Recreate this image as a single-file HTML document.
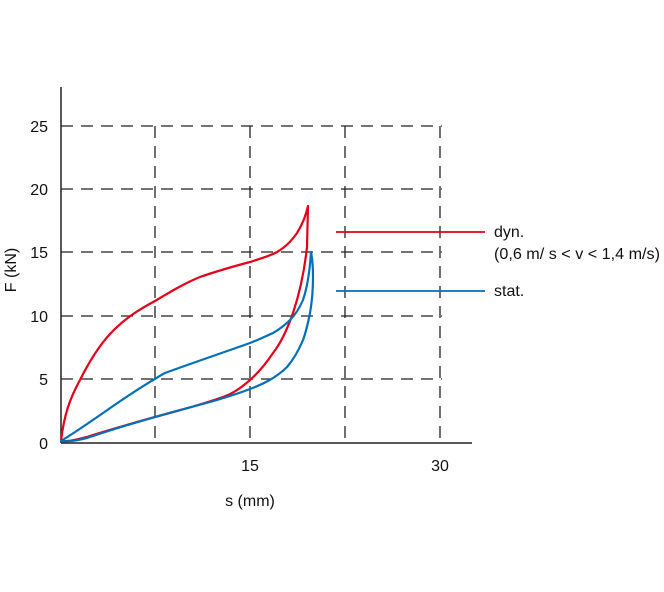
<!DOCTYPE html>
<html><head><style>body{margin:0;background:#fff}svg{display:block}</style></head><body>
<svg width="664" height="592" xmlns="http://www.w3.org/2000/svg" font-family="Liberation Sans, Arial, sans-serif" font-size="16" fill="#111">
<g stroke="#222" stroke-width="1.3" stroke-dasharray="12,8" fill="none">
<line x1="61" y1="126" x2="442" y2="126"/>
<line x1="61" y1="189" x2="442" y2="189"/>
<line x1="61" y1="252" x2="442" y2="252"/>
<line x1="61" y1="316" x2="442" y2="316"/>
<line x1="61" y1="379" x2="442" y2="379"/>
<line x1="155" y1="126" x2="155" y2="443"/>
<line x1="250" y1="126" x2="250" y2="443"/>
<line x1="345" y1="126" x2="345" y2="443"/>
<line x1="440" y1="126" x2="440" y2="443"/>
</g>
<g stroke="#222" stroke-width="1.5">
<line x1="61" y1="87" x2="61" y2="443"/>
<line x1="61" y1="443" x2="472" y2="443"/>
</g>
<g text-anchor="end">
<text x="48" y="132">25</text><text x="48" y="195">20</text><text x="48" y="258">15</text>
<text x="48" y="322">10</text><text x="48" y="385">5</text><text x="48" y="449">0</text>
</g>
<text x="250" y="471" text-anchor="middle">15</text>
<text x="440" y="471" text-anchor="middle">30</text>
<text x="250" y="506" text-anchor="middle">s (mm)</text>
<text transform="translate(16,270) rotate(-90)" text-anchor="middle">F (kN)</text>
<g fill="none" stroke-width="2.2" stroke-linejoin="round">
<path stroke="#e2001a" d="M61,441 C64,415 70,398 80,380 C89,362 98,347 110,334 C125,318 140,309 155,301 C170,292 185,283 200,277 C220,270 235,266 250,262 C262,258 270,256 277,252 C287,246 292,240 297,233 C302,225 306,215 308,206 L307,247 C304,275 299,295 293,313 C287,330 281,343 273,353 C265,365 258,373 250,380 C240,389 232,394 223,397 C200,405 178,411 155,417 C130,424 105,431 87,437 C75,440 67,442 61,441 Z"/>
<path stroke="#0070b8" d="M61,441 C95,420 125,396 155,379 C158,377 161,375 165,373 C195,362 222,353 250,343 C258,340 266,336 273,333 C280,329 285,325 290,320 C296,314 300,307 303,300 C308,285 310,268 311,252 C313,262 313,270 313,277 C313,290 312,302 310,313 C308,323 306,332 303,340 C298,352 293,360 287,367 C276,378 263,384 250,389 C237,394 227,397 217,400 C196,406 175,411 155,417 C130,424 105,432 87,438 C75,441 67,442 61,441 Z"/>
<line stroke="#e2001a" stroke-width="1.8" x1="336" y1="232" x2="485" y2="232"/>
<line stroke="#0070b8" stroke-width="1.8" x1="336" y1="291" x2="485" y2="291"/>
</g>
<text x="494" y="237">dyn.</text>
<text x="494" y="259" textLength="166" lengthAdjust="spacingAndGlyphs">(0,6 m/ s &lt; v &lt; 1,4 m/s)</text>
<text x="494" y="296">stat.</text>
</svg>
</body></html>
